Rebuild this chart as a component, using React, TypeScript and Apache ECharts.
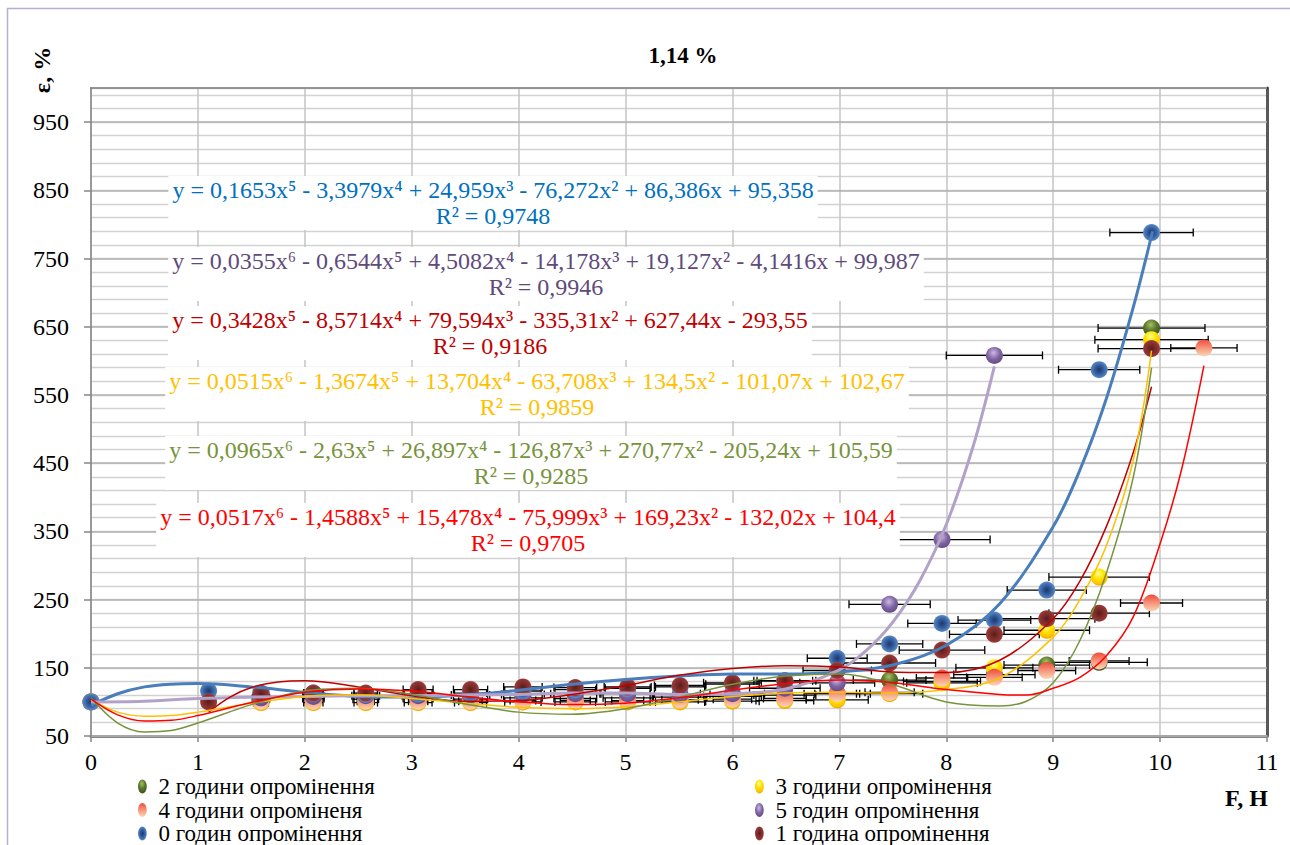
import React, { useEffect, useRef } from 'react';
import * as echarts from 'echarts';

const SERIF = "'Liberation Serif', 'Times New Roman', 'DejaVu Serif', serif";

// ---- data (F, H ; ε, % ; x error) ----
const F0 = [0, 1.1, 1.59, 2.08, 2.57, 3.06, 3.55, 4.04, 4.53, 5.02, 5.51, 6.0, 6.49, 6.98, 7.47, 7.96, 8.45, 8.94, 9.43, 9.92];
const E0 = [100, 116, 113, 113, 111, 112, 113, 116, 118, 120, 122, 126, 131, 164, 185, 215, 220, 264, 587, 788];
const D0 = [0, 0.05, 0.07, 0.09, 0.11, 0.13, 0.15, 0.17, 0.19, 0.21, 0.23, 0.25, 0.26, 0.28, 0.31, 0.32, 0.34, 0.37, 0.38, 0.39];

const F1 = [1.1, 1.59, 2.08, 2.57, 3.06, 3.55, 4.04, 4.53, 5.02, 5.51, 6.0, 6.49, 6.98, 7.47, 7.96, 8.45, 8.94, 9.43, 9.92];
const E1 = [100, 112, 113, 113, 118, 118, 122, 121, 122, 124, 128, 131, 146, 157, 176, 199, 222, 230, 618];
const D1 = [0.05, 0.07, 0.09, 0.11, 0.14, 0.16, 0.18, 0.2, 0.22, 0.24, 0.27, 0.29, 0.32, 0.43, 0.4, 0.42, 0.45, 0.47, 0.5];

const F2 = [0, 1.59, 2.08, 2.57, 3.06, 3.55, 4.04, 4.53, 5.02, 5.51, 6.0, 6.49, 6.98, 7.47, 7.96, 8.45, 8.94, 9.43, 9.92];
const E2 = [100, 104, 105, 104, 105, 104, 106, 105, 106, 107, 108, 110, 112, 132, 130, 140, 154, 158, 648];
const D2 = [0, 0.08, 0.1, 0.12, 0.14, 0.16, 0.18, 0.2, 0.23, 0.25, 0.27, 0.29, 0.31, 0.34, 0.36, 0.38, 0.4, 0.45, 0.5];

const F3 = [0, 1.59, 2.08, 2.57, 3.06, 3.55, 4.04, 4.53, 5.02, 5.51, 6.0, 6.49, 6.98, 7.47, 7.96, 8.45, 8.94, 9.43, 9.92];
const E3 = [100, 99, 99, 99, 99, 99, 100, 100, 100, 100, 101, 102, 103, 112, 128, 150, 205, 283, 631];
const D3 = [0, 0.07, 0.09, 0.11, 0.13, 0.15, 0.17, 0.19, 0.21, 0.23, 0.25, 0.27, 0.29, 0.31, 0.33, 0.36, 0.4, 0.47, 0.53];

const F4 = [0, 1.59, 2.08, 2.57, 3.06, 3.55, 4.04, 4.53, 5.02, 5.51, 6.0, 6.49, 6.98, 7.47, 7.96, 8.45, 8.94, 9.43, 9.92, 10.41];
const E4 = [100, 101, 101, 101, 101, 101, 102, 102, 102, 103, 104, 105, 112, 114, 135, 136, 146, 160, 245, 619];
const D4 = [0, 0.05, 0.06, 0.08, 0.09, 0.11, 0.12, 0.14, 0.15, 0.17, 0.18, 0.2, 0.21, 0.23, 0.24, 0.26, 0.27, 0.28, 0.29, 0.31];

const F5 = [0, 1.59, 2.08, 2.57, 3.06, 3.55, 4.04, 4.53, 5.02, 5.51, 6.0, 6.49, 6.98, 7.47, 7.96, 8.45];
const E5 = [100, 106, 108, 109, 109, 110, 111, 112, 112, 111, 112, 120, 128, 243, 338, 608];
const D5 = [0, 0.08, 0.1, 0.13, 0.15, 0.18, 0.2, 0.23, 0.25, 0.28, 0.3, 0.33, 0.35, 0.38, 0.45, 0.45];

// ---- trend curves ----
const T0 = [[0, 95], [0.25, 112], [0.5, 122], [0.75, 126], [1, 127], [1.5, 122], [2, 114], [2.5, 108], [3, 107], [3.5, 110], [4, 117], [4.5, 126], [5, 133], [5.5, 138], [6, 141], [6.5, 141], [7, 144], [7.5, 154], [8, 183], [8.5, 244], [9, 357], [9.25, 440], [9.5, 546], [9.75, 679], [9.93, 790]];
const T1 = [[1.1, 85], [1.3, 107], [1.5, 121], [1.75, 129], [2, 131], [2.5, 122], [3, 109], [3.5, 101], [4, 102], [4.5, 111], [5, 124], [5.5, 139], [6, 149], [6.5, 153], [7, 151], [7.5, 144], [8, 143], [8.5, 161], [9, 222], [9.25, 277], [9.5, 358], [9.75, 466], [9.92, 562]];
const T2 = [[0, 106], [0.25, 69], [0.5, 56], [0.75, 58], [1, 69], [1.5, 96], [2, 116], [2.5, 120], [3, 111], [3.5, 97], [4, 85], [4.5, 82], [5, 90], [5.5, 107], [6, 126], [6.5, 138], [7, 141], [7.5, 125], [8, 100], [8.5, 94], [8.75, 101], [9, 128], [9.25, 190], [9.5, 290], [9.75, 430], [9.92, 590]];
const T3 = [[0, 103], [0.25, 85], [0.5, 79], [0.75, 80], [1, 85], [1.5, 98], [2, 108], [2.5, 110], [3, 105], [3.5, 98], [4, 92], [4.5, 90], [5, 93], [5.5, 100], [6, 108], [6.5, 113], [7, 114], [7.5, 113], [8, 118], [8.5, 135], [9, 195], [9.25, 250], [9.5, 330], [9.75, 455], [9.92, 615]];
const T4 = [[0, 104], [0.25, 81], [0.5, 72], [0.75, 73], [1, 80], [1.5, 99], [2, 114], [2.5, 119], [3, 116], [3.5, 108], [4, 100], [4.5, 96], [5, 98], [5.5, 106], [6, 117], [6.5, 127], [7, 132], [7.5, 128], [8, 118], [8.5, 111], [8.75, 110], [9, 120], [9.25, 136], [9.5, 168], [9.75, 225], [10, 332], [10.2, 440], [10.41, 593]];
const T5 = [[0, 100], [0.5, 101], [1, 105], [1.5, 107], [2, 108], [2.5, 109], [3, 109], [3.5, 110], [4, 111], [4.5, 113], [5, 113], [5.5, 111], [6, 112], [6.5, 119], [7, 147], [7.25, 175], [7.5, 217], [7.75, 277], [8, 360], [8.25, 474], [8.45, 592]];

const NAMES = ['0 годин опромінення', '1 година опромінення', '2 години опромінення', '3 години опромінення', '4 години опроміненя', '5 годин опромінення'];
// legend slots: [series index, icon centre x, row centre y]
const LEGEND_SLOTS = [[2, 143, 784], [3, 760, 784], [4, 143, 807.5], [5, 760, 807.5], [0, 143, 831], [1, 760, 831]];

const EQ = [
  'y = 0,1653x⁵ - 3,3979x⁴ + 24,959x³ - 76,272x² + 86,386x + 95,358\nR² = 0,9748',
  'y = 0,3428x⁵ - 8,5714x⁴ + 79,594x³ - 335,31x² + 627,44x - 293,55\nR² = 0,9186',
  'y = 0,0965x⁶ - 2,63x⁵ + 26,897x⁴ - 126,87x³ + 270,77x² - 205,24x + 105,59\nR² = 0,9285',
  'y = 0,0515x⁶ - 1,3674x⁵ + 13,704x⁴ - 63,708x³ + 134,5x² - 101,07x + 102,67\nR² = 0,9859',
  'y = 0,0517x⁶ - 1,4588x⁵ + 15,478x⁴ - 75,999x³ + 169,23x² - 132,02x + 104,4\nR² = 0,9705',
  'y = 0,0355x⁶ - 0,6544x⁵ + 4,5082x⁴ - 14,178x³ + 19,127x² - 4,1416x + 99,987\nR² = 0,9946',
];

const radial = (stops: [number, string][], x = 0.5, y = 0.5, r = 0.6) => ({
  type: 'radial', x, y, r, colorStops: stops.map(([offset, color]) => ({ offset, color })),
});

const FILL = [
  radial([[0, '#1f3864'], [0.35, '#2f5597'], [0.75, '#4f81bd'], [1, '#93b1dc']]),
  radial([[0, '#5a1c1b'], [0.4, '#7b2c2a'], [0.75, '#953735'], [1, '#c27a78']]),
  radial([[0, '#a6c064'], [0.45, '#5e7a2e'], [1, '#3a4a1b']], 0.45, 0.3, 0.75),
  radial([[0, '#ffff9a'], [0.4, '#ffe600'], [0.8, '#ffc000'], [1, '#d99400']], 0.45, 0.3, 0.75),
  { type: 'linear', x: 0, y: 0, x2: 0, y2: 1, colorStops: [{ offset: 0, color: '#ef4a3c' }, { offset: 0.5, color: '#f6957a' }, { offset: 1, color: '#fbd7b8' }] },
  radial([[0, '#c9b9e4'], [0.5, '#8064a2'], [1, '#5a4480']], 0.45, 0.35, 0.75),
];
const LINE_COLOR = ['#4a7ebb', '#c00000', '#77933c', '#ffc000', '#ff0000', '#b3a2c7'];
const LINE_W = [3, 1.5, 1.5, 1.5, 1.5, 3];
const EQ_COLOR = ['#0070c0', '#c00000', '#77933c', '#ffc000', '#ff0000', '#604a7b'];
const EQ_POS = [[493, 203], [490, 333], [531, 463], [537, 394], [528, 530], [546, 274]];

const SER = [
  { xs: F0, ys: E0, ds: D0, trend: T0 },
  { xs: F1, ys: E1, ds: D1, trend: T1 },
  { xs: F2, ys: E2, ds: D2, trend: T2 },
  { xs: F3, ys: E3, ds: D3, trend: T3 },
  { xs: F4, ys: E4, ds: D4, trend: T4 },
  { xs: F5, ys: E5, ds: D5, trend: T5 },
];
const DRAW_ORDER = [2, 3, 4, 5, 0, 1];

const renderErr = (params: any, api: any) => {
  const x = api.value(0);
  const y = api.value(1);
  const e = api.value(2);
  if (!e) return { type: 'group', children: [] };
  const a = api.coord([x - e, y]);
  const b = api.coord([x + e, y]);
  const st = { stroke: '#000', lineWidth: 1.3 };
  return {
    type: 'group',
    children: [
      { type: 'line', shape: { x1: a[0], y1: a[1], x2: b[0], y2: b[1] }, style: st },
      { type: 'line', shape: { x1: a[0], y1: a[1] - 4, x2: a[0], y2: a[1] + 4 }, style: st },
      { type: 'line', shape: { x1: b[0], y1: b[1] - 4, x2: b[0], y2: b[1] + 4 }, style: st },
    ],
  };
};

const ICON = 'path://M5,0 A5,8 0 1 1 5,16 A5,8 0 1 1 5,0 Z';

export default function App() {
  const ref = useRef<HTMLDivElement>(null);
  useEffect(() => {
    if (!ref.current) return;
    const chart = echarts.init(ref.current, null, { renderer: 'svg' });
    const series: any[] = [];
    DRAW_ORDER.forEach((i) => {
      const s = SER[i];
      series.push({
        type: 'custom', name: 'err' + i, renderItem: renderErr, silent: true, z: 2,
        dimensions: ['x', 'y', 'e'], encode: { x: 0, y: 1 },
        data: s.xs.map((x, k) => [x, s.ys[k], s.ds[k]]),
      });
      series.push({
        type: 'scatter', name: NAMES[i], symbol: 'circle', symbolSize: 17, z: 2,
        itemStyle: { color: FILL[i], opacity: 1 },
        data: s.xs.map((x, k) => [x, s.ys[k]]),
      });
    });
    [0, 5, 1, 3, 2, 4].forEach((i) => {
      series.push({
        type: 'line', name: 'trend' + i, data: SER[i].trend, smooth: 0.35, symbol: 'none', showSymbol: false,
        silent: true, z: 4, lineStyle: { color: LINE_COLOR[i], width: LINE_W[i] },
      });
    });
    const legends = LEGEND_SLOTS.map(([si, cx, cy]) => ({
      orient: 'vertical', padding: 0, itemGap: 0, itemWidth: 22, itemHeight: 14, icon: ICON,
      symbolKeepAspect: true, selectedMode: false,
      left: (cx as number) - 5, top: (cy as number) - 9, height: 18,
      data: [NAMES[si as number]],
      textStyle: { color: '#000', fontSize: 23, fontFamily: SERIF, lineHeight: 18 },
    }));
    const graphics: any[] = [
      { type: 'rect', silent: true, shape: { x: 7.5, y: 8.5, width: 1400, height: 1000 }, style: { fill: 'none', stroke: '#b9acd6', lineWidth: 1.5 } },
      { type: 'text', x: 683, y: 55, style: { text: '1,14 %', fill: '#000', font: `bold 23px ${SERIF}`, align: 'center', verticalAlign: 'middle', textAlign: 'center', textVerticalAlign: 'middle' } },
      { type: 'text', x: 42, y: 70, rotation: Math.PI / 2, style: { text: 'ε, %', fill: '#000', font: `bold 24px ${SERIF}`, align: 'center', verticalAlign: 'middle', textAlign: 'center', textVerticalAlign: 'middle' } },
      { type: 'text', x: 1268, y: 798, style: { text: 'F, H', fill: '#000', font: `bold 24px ${SERIF}`, align: 'right', verticalAlign: 'middle', textAlign: 'right', textVerticalAlign: 'middle', lineHeight: 20 } },
    ];
    EQ.forEach((t, i) => {
      graphics.push({
        type: 'text', x: EQ_POS[i][0], y: EQ_POS[i][1], z: 10,
        style: {
          text: t, fill: EQ_COLOR[i], font: `24px ${SERIF}`, lineHeight: 26,
          align: 'center', verticalAlign: 'middle', textAlign: 'center', textVerticalAlign: 'middle',
          backgroundColor: '#ffffff', padding: [1, 4],
        },
      });
    });
    const option: any = {
      animation: false,
      backgroundColor: '#ffffff',
      grid: { left: 91, right: 23, top: 88, bottom: 109, containLabel: false },
      xAxis: [
        {
          type: 'value', min: 0, max: 11, interval: 1, position: 'bottom',
          axisLine: { show: true, onZero: false, lineStyle: { color: '#868686', width: 3 } },
          axisTick: { show: true, length: 6, lineStyle: { color: '#868686', width: 1.5 } },
          axisLabel: { color: '#000', fontSize: 24, fontFamily: SERIF, margin: 17, lineHeight: 18 },
          splitLine: { show: true, lineStyle: { color: '#c4c4c4', width: 1.5 } },
        },
        {
          type: 'value', min: 0, max: 11, position: 'top',
          axisLine: { show: true, onZero: false, lineStyle: { color: '#000', width: 1.5 } },
          axisTick: { show: false }, axisLabel: { show: false }, splitLine: { show: false },
        },
      ],
      yAxis: [
        {
          type: 'value', min: 50, max: 1000, interval: 100, position: 'left', z: 1,
          axisLine: { show: true, onZero: false, lineStyle: { color: '#868686', width: 1.5 } },
          axisTick: { show: true, length: 7, lineStyle: { color: '#868686', width: 1.5 } },
          axisLabel: { color: '#000', fontSize: 24, fontFamily: SERIF, margin: 22, showMaxLabel: false },
          splitLine: { show: true, lineStyle: { color: '#b2b2b2', width: 1.5 } },
        },
        {
          type: 'value', min: 50, max: 1000, interval: 20, position: 'right', z: 0,
          axisLine: { show: true, onZero: false, lineStyle: { color: '#595959', width: 3 } },
          axisTick: { show: false }, axisLabel: { show: false },
          splitLine: { show: true, lineStyle: { color: '#d2d2d2', width: 1.4 } },
        },
      ],
      legend: legends,
      graphic: graphics,
      series,
    };
    chart.setOption(option);
    return () => chart.dispose();
  }, []);
  return <div ref={ref} style={{ position: 'fixed', left: 0, top: 0, width: 1290, height: 845 }} />;
}
